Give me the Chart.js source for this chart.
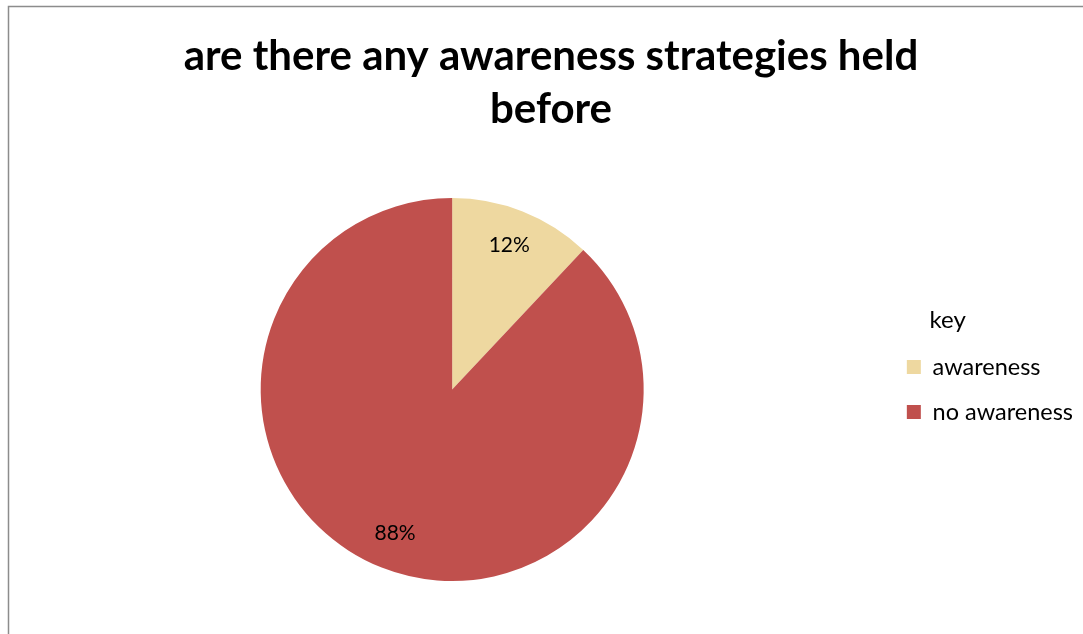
<!DOCTYPE html>
<html>
<head>
<meta charset="utf-8">
<title>awareness strategies</title>
<script src="https://cdn.jsdelivr.net/npm/chart.js@4"></script>
<style>
  html, body { margin: 0; padding: 0; background: #ffffff; }
  canvas { display: block; }
</style>
</head>
<body>
<canvas id="pie-chart" width="1083" height="634"></canvas>
<script>
// Chart data
const categories = ['awareness', 'no awareness'];
const shares = [12, 88];
const sliceColors = ['#EED8A0', '#C0504D'];
const legendTitle = 'key';
const chartTitle = ['are there any awareness strategies held', 'before'];

const FONT = 'Lato, "Open Sans", sans-serif';
const LEGEND_FONT_SIZE = 23.5;

// Thin grey frame round the chart, cut off at the right and bottom edges
const framePlugin = {
  id: 'frame',
  beforeDraw(chart) {
    const ctx = chart.ctx;
    ctx.save();
    ctx.strokeStyle = '#8C8C8C';
    ctx.lineWidth = 1.5;
    ctx.strokeRect(8.5, 6.5, chart.width + 20, chart.height + 20);
    ctx.restore();
  }
};

// Percent labels inside each slice
const sliceLabelPlugin = {
  id: 'sliceLabels',
  afterDatasetsDraw(chart) {
    const ctx = chart.ctx;
    const meta = chart.getDatasetMeta(0);
    ctx.save();
    ctx.font = '21px ' + FONT;
    ctx.fillStyle = '#000000';
    ctx.textAlign = 'center';
    ctx.textBaseline = 'middle';
    meta.data.forEach((arc, i) => {
      const { x, y, startAngle, endAngle, outerRadius } =
        arc.getProps(['x', 'y', 'startAngle', 'endAngle', 'outerRadius'], true);
      const mid = (startAngle + endAngle) / 2;
      const r = outerRadius * 0.81;
      ctx.fillText(shares[i] + '%', x + Math.cos(mid) * r, y + Math.sin(mid) * r);
    });
    ctx.restore();
  }
};

// "key" heading above the legend, lined up with the legend text
const keyHeadingPlugin = {
  id: 'keyHeading',
  afterDraw(chart) {
    const legend = chart.legend;
    if (!legend || !legend.legendHitBoxes.length) return;
    const first = legend.legendHitBoxes[0];
    const labels = legend.options.labels;
    const ctx = chart.ctx;
    ctx.save();
    ctx.font = '24px ' + FONT;
    ctx.fillStyle = '#000000';
    ctx.textAlign = 'left';
    ctx.textBaseline = 'middle';
    ctx.fillText(legendTitle,
      first.left + labels.boxWidth + LEGEND_FONT_SIZE / 2 - 3,
      first.top + first.height / 2 - 47);
    ctx.restore();
  }
};

const ctx = document.getElementById('pie-chart').getContext('2d');
new Chart(ctx, {
  type: 'pie',
  data: {
    labels: categories,
    datasets: [{
      data: shares,
      backgroundColor: sliceColors,
      borderWidth: 0
    }]
  },
  options: {
    responsive: false,
    devicePixelRatio: 1,
    animation: false,
    layout: {
      padding: { left: 19, right: 0, top: 0, bottom: 53 }
    },
    plugins: {
      tooltip: { enabled: false },
      title: {
        display: true,
        text: chartTitle,
        color: '#000000',
        font: { family: FONT, size: 42, weight: 'bold', lineHeight: 1.262 },
        padding: { top: 30, bottom: 62 }
      },
      legend: {
        position: 'right',
        align: 'center',
        fullSize: false,
        labels: {
          color: '#000000',
          boxWidth: 14,
          boxHeight: 14,
          padding: 21.5,
          font: { family: FONT, size: LEGEND_FONT_SIZE }
        }
      }
    }
  },
  plugins: [framePlugin, sliceLabelPlugin, keyHeadingPlugin]
});
</script>
</body>
</html>
